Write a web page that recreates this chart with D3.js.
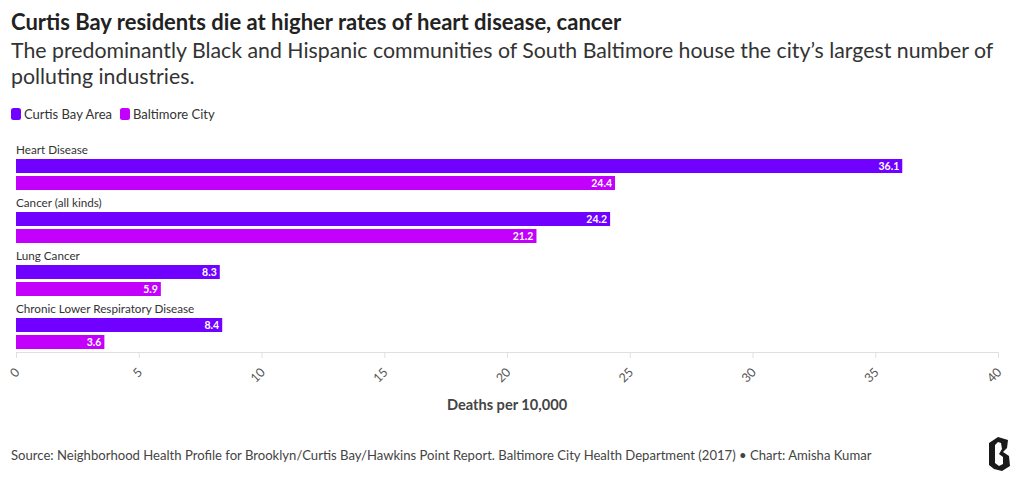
<!DOCTYPE html>
<html>
<head>
<meta charset="utf-8">
<script src="https://cdn.jsdelivr.net/npm/d3@7"></script>
<style>
  html, body { margin: 0; padding: 0; background: #fff; }
  svg { display: block; }
  text { font-family: "Lato", "Noto Sans", sans-serif; }
</style>
</head>
<body>
<svg id="chart" width="1020" height="485"></svg>
<script>
const categories = ["Heart Disease", "Cancer (all kinds)", "Lung Cancer", "Chronic Lower Respiratory Disease"];
const seriesNames = ["Curtis Bay Area", "Baltimore City"];
const curtisBay = [36.1, 24.2, 8.3, 8.4];
const baltimoreCity = [24.4, 21.2, 5.9, 3.6];
const tickValues = [0, 5, 10, 15, 20, 25, 30, 35, 40];
const colors = ["#7000ff", "#c200fc"];

const titleText = "Curtis Bay residents die at higher rates of heart disease, cancer";
const subtitleLines = ["The predominantly Black and Hispanic communities of South Baltimore house the city\u2019s largest number of", "polluting industries."];
const axisTitle = "Deaths per 10,000";
const sourceText = "Source: Neighborhood Health Profile for Brooklyn/Curtis Bay/Hawkins Point Report. Baltimore City Health Department (2017) \u2022 Chart: Amisha Kumar";

const svg = d3.select("#chart");

// Title & subtitle
svg.append("text").attr("x", 11).attr("y", 30)
  .attr("font-size", 22).attr("font-weight", 700).attr("fill", "#222")
  .text(titleText);
const sub = svg.append("text").attr("font-size", 21.3).attr("fill", "#333");
subtitleLines.forEach((l, i) => sub.append("tspan").attr("x", 11).attr("y", 58 + i * 26).text(l));

// Legend
const legend = svg.append("g").attr("transform", "translate(11,108)");
let lx = 0;
seriesNames.forEach((n, i) => {
  const g = legend.append("g").attr("transform", `translate(${lx},0)`);
  g.append("rect").attr("width", 10).attr("height", 12).attr("rx", 2.5).attr("fill", colors[i]);
  const t = g.append("text").attr("x", 13).attr("y", 10.5).attr("font-size", 13).attr("fill", "#333").text(n);
  lx += 13 + t.node().getComputedTextLength() + 8;
});

// Scales
const x = d3.scaleLinear().domain([0, 40]).range([16, 998]);
const y0 = d3.scaleBand().domain(categories).range([141, 353]);
const y1 = d3.scaleBand().domain(seriesNames).range([18, 49]).paddingInner(3 / 17);

const data = categories.map((c, i) => ({ cat: c, vals: [curtisBay[i], baltimoreCity[i]] }));

// Axis
const axisG = svg.append("g").attr("transform", "translate(0,352)")
  .call(d3.axisBottom(x).tickValues(tickValues).tickSize(6).tickSizeOuter(0).tickFormat(d3.format("d")));
axisG.select(".domain").attr("stroke", "#e0e0e0");
axisG.selectAll(".tick line").attr("stroke", "#e0e0e0");
axisG.selectAll(".tick text")
  .attr("font-family", "Lato, 'Noto Sans', sans-serif")
  .attr("font-size", 12.5).attr("fill", "#555")
  .attr("text-anchor", "end")
  .attr("dy", null).attr("y", 0)
  .attr("transform", "translate(4,21) rotate(-45)");

svg.append("text").attr("x", 507).attr("y", 410).attr("text-anchor", "middle")
  .attr("font-size", 14.6).attr("font-weight", 700).attr("fill", "#444").text(axisTitle);

// Groups
const groups = svg.append("g").selectAll("g").data(data).join("g")
  .attr("transform", d => `translate(0,${y0(d.cat)})`);
groups.append("text").attr("x", 16).attr("y", 13).attr("font-size", 11.7).attr("fill", "#333").text(d => d.cat);

groups.each(function (d) {
  const g = d3.select(this);
  seriesNames.forEach((s, i) => {
    const v = d.vals[i];
    g.append("rect").attr("x", x(0)).attr("y", y1(s))
      .attr("width", x(v) - x(0)).attr("height", y1.bandwidth())
      .attr("fill", colors[i]);
    g.append("text").attr("x", x(v) - 3).attr("y", y1(s) + y1.bandwidth() / 2 + 4)
      .attr("text-anchor", "end").attr("font-size", 10.5).attr("font-weight", 700)
      .attr("fill", "#fff").text(d3.format(".1f")(v));
  });
});

// Source
svg.append("text").attr("x", 11).attr("y", 460).attr("font-size", 13.1).attr("fill", "#444").text(sourceText);

// Logo (blackletter-style B)
svg.append("path")
  .attr("transform", "translate(986,437)")
  .attr("fill", "#1a1a1a")
  .attr("d", "M3,6 L12,0 L22,3 L21,11 L17,15 L23,19 L24,29 L16,34 L8,32 L3,28 Z M9,8 L9,26 L13,29 L17,27 L17,20 L13,17 L16,12 L15,6 L12,5 Z");
</script>
</body>
</html>
